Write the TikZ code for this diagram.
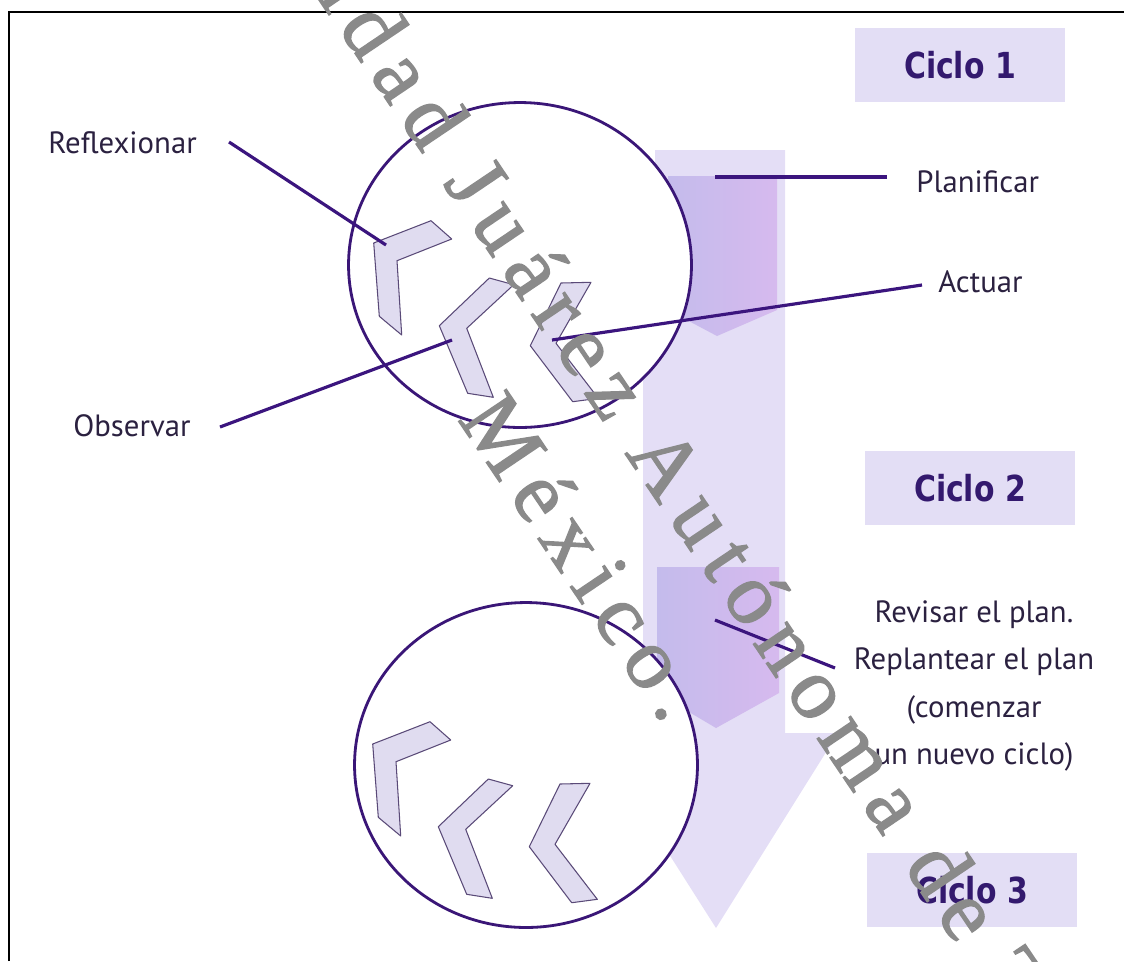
\documentclass[tikz,border=0pt]{standalone}
\usepackage{fontspec}
\usetikzlibrary{calc,shapes.geometric}
\newfontfamily\lblfont{PT Sans}
\newfontfamily\ciclofont{DejaVu Sans}
\newfontfamily\wmfont[LetterSpace=15,FakeBold=1.5]{Liberation Serif}
\definecolor{bandfill}{HTML}{E4DEF6}
\definecolor{pentleft}{HTML}{C4BBEC}
\definecolor{pentright}{HTML}{D6BAEE}
\definecolor{loopline}{HTML}{3A1677}
\definecolor{leadcol}{HTML}{3B157E}
\definecolor{chevfill}{HTML}{E0DCF0}
\definecolor{chevline}{HTML}{5A4A78}
\definecolor{ciclobg}{HTML}{E3DEF5}
\definecolor{ciclotext}{HTML}{33196E}
\definecolor{lbltext}{HTML}{2B2140}
\definecolor{wmgray}{HTML}{8A8A8A}
\tikzset{
  diagram/.style={x=0.02cm, y=-0.02cm},
  lbl/.style={font=\lblfont\fontsize{17.5}{27}\selectfont, text=lbltext, inner sep=0pt},
  ciclobox/.style={rectangle, fill=ciclobg, minimum width=4.2cm, minimum height=1.48cm,
    inner sep=0pt, font=\ciclofont\bfseries\fontsize{17}{20}\selectfont, text=ciclotext},
  loop/.style={ellipse, draw=loopline, line width=1.6pt, fill=white,
    minimum width=6.86cm, minimum height=6.5cm, inner sep=0pt},
  leader/.style={draw=leadcol, line width=1.8pt},
  chev/.style={fill=chevfill, draw=chevline, line width=0.6pt, line join=round},
  wmark/.style={font=\wmfont\fontsize{50}{58}\selectfont, text=wmgray, rotate=-56,
    inner sep=0pt, anchor=base west},
  chevrons/.pic={
    \draw[chev] (-153.3,-21) -- (-96,-43.3) -- (-75.3,-25) -- (-130,-3.3)
          -- (-125.3,71) -- (-147.7,52.3) -- cycle;
    \draw[chev] (-87.7,61.7) -- (-37.7,14) -- (-13.3,20.7) -- (-60.3,64.3)
          -- (-33.7,133.3) -- (-59.3,129.3) -- cycle;
    \draw[chev] (3.3,81.7) -- (34,19) -- (64,18.3) -- (29,79.3)
          -- (71.3,134.3) -- (45.7,137.7) -- cycle;
  },
}

\begin{document}
\begin{tikzpicture}[diagram]
  \useasboundingbox (0,0) rectangle (1124,961);
  % frame
  \draw[line width=1.2pt] (9,961) -- (9,12) -- (1124,12);
  % the big down arrow and its two inner arrows
  \fill[bandfill] (655,150) -- (785,150) -- (785,733) -- (838,733) -- (716,928)
    -- (592,733) -- (643,733) -- (643,338) -- (655,338) -- cycle;
  \shade[left color=pentleft, right color=pentright]
    (668,176) -- (777,176) -- (777,310) -- (717,336) -- (668,310) -- cycle;
  \shade[left color=pentleft, right color=pentright]
    (657,567) -- (779,567) -- (779,693) -- (716,728) -- (657,693) -- cycle;
  % the two cycles
  \node[loop] (loopA) at (520,265) {};
  \node[loop] (loopB) at (526,765) {};
  \pic at (527,264) {chevrons};
  \pic at (526,765) {chevrons};
  % labels
  \node[lbl, anchor=base west] (refl) at (48,153) {Reflexionar};
  \node[lbl, anchor=base west] (obs) at (73,436) {Observar};
  \node[lbl, anchor=base west] (plan) at (916,192) {Planificar};
  \node[lbl, anchor=base west] (act) at (938,292) {Actuar};
  \node[lbl, align=center] (rev) at (974,686)
    {Revisar el plan.\\Replantear el plan\\(comenzar\\un nuevo ciclo)};
  \node[ciclobox] (cyc1) at (960,65) {\scalebox{1}[1.2]{Ciclo 1}};
  \node[ciclobox] (cyc2) at (970,488) {\scalebox{1}[1.2]{Ciclo 2}};
  \node[ciclobox] (cyc3) at (972,890) {\scalebox{1}[1.2]{Ciclo 3}};
  % leader lines
  \coordinate (reflFoot) at (229,142); \coordinate (reflTip) at (386,245);
  \coordinate (obsFoot) at (220,427);  \coordinate (obsTip) at (452,340);
  \coordinate (planFoot) at (887,177); \coordinate (planTip) at (715,177);
  \coordinate (actFoot) at (922,285);  \coordinate (actTip) at (552,340);
  \coordinate (revFoot) at (835,668);  \coordinate (revTip) at (715,620);
  \draw[leader] (reflFoot) -- (reflTip);
  \draw[leader] (obsFoot) -- (obsTip);
  \draw[leader] (planFoot) -- (planTip);
  \draw[leader] (actFoot) -- (actTip);
  \draw[leader] (revFoot) -- (revTip);
  % watermark
  \begin{scope}
    \clip (0,0) rectangle (1124,961);
    \node[wmark] (wmOne) at (903,866) {\llap{Universidad Juárez Autónoma }de Tabasco.};
    \node[wmark] (wmTwo) at (457,419) {México.};
  \end{scope}
\end{tikzpicture}
\end{document}
